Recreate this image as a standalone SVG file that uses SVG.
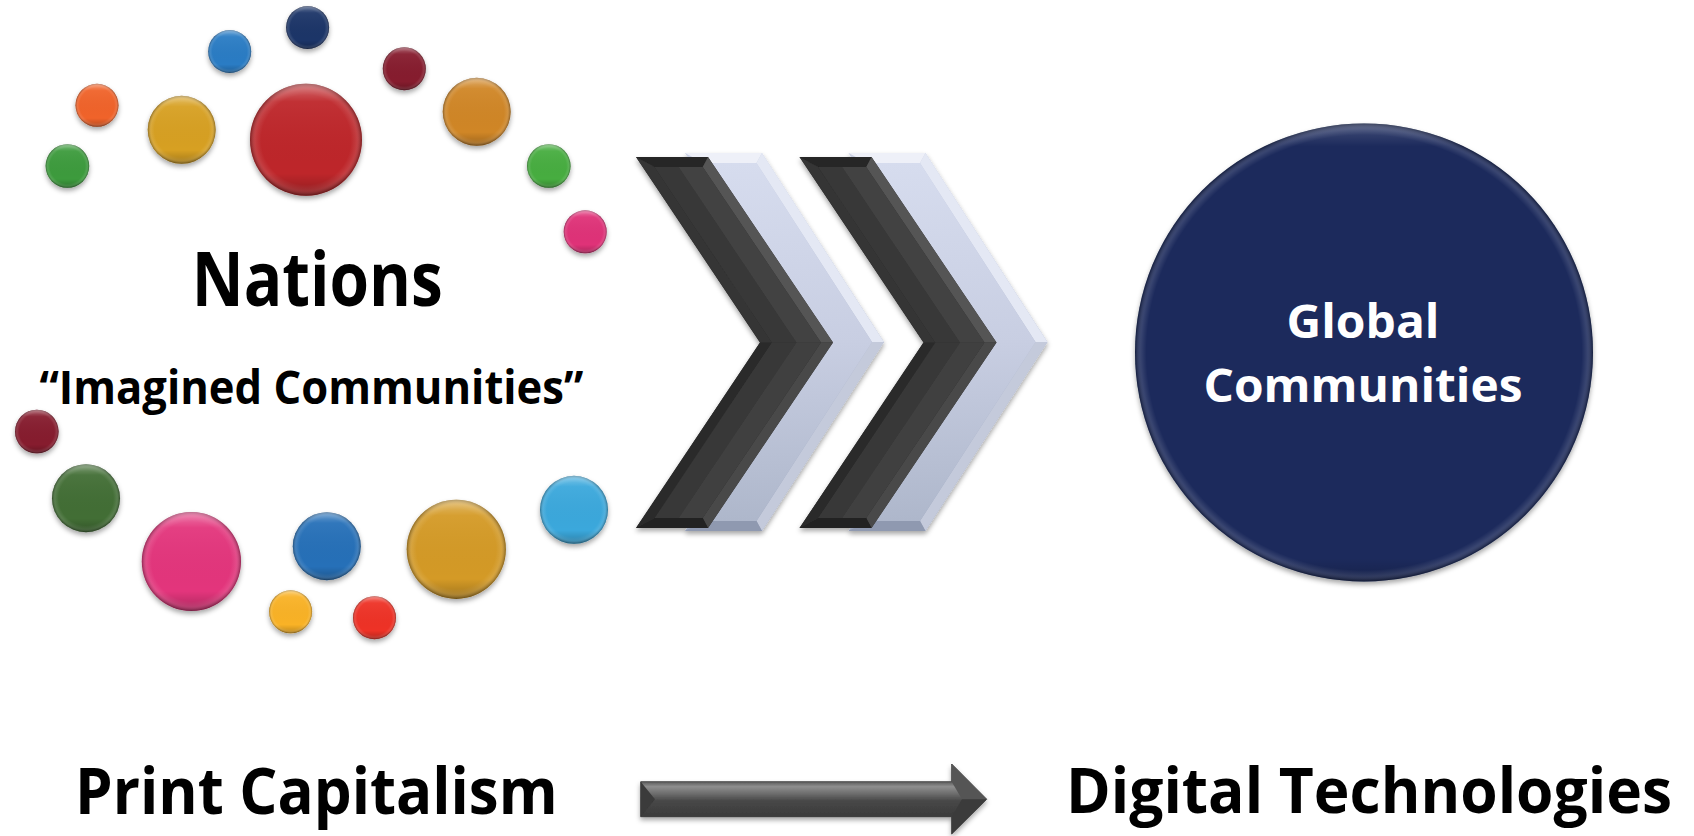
<svg xmlns="http://www.w3.org/2000/svg" xmlns:xlink="http://www.w3.org/1999/xlink" width="1694" height="836" viewBox="0 0 1694 836">
<style>
.t{font-family:"Open Sans","Noto Sans","Liberation Sans",sans-serif;font-weight:700;fill:#000}
.w{fill:#fff}
</style>
<defs>
<filter id="sh" x="-20%" y="-20%" width="140%" height="150%">
<feDropShadow dx="0" dy="3" stdDeviation="2.5" flood-color="#000" flood-opacity="0.35"/>
</filter>
<radialGradient id="rim" cx="0.5" cy="0.5" r="0.5">
<stop offset="0.8" stop-color="#fff" stop-opacity="0"/>
<stop offset="0.9" stop-color="#fff" stop-opacity="0.1"/>
<stop offset="1" stop-color="#000" stop-opacity="0.35"/>
</radialGradient>
<radialGradient id="rimBig" cx="0.5" cy="0.5" r="0.5">
<stop offset="0.95" stop-color="#fff" stop-opacity="0"/>
<stop offset="0.975" stop-color="#fff" stop-opacity="0.12"/>
<stop offset="1" stop-color="#000" stop-opacity="0.35"/>
</radialGradient>
<linearGradient id="glBig" x1="0" y1="0" x2="0" y2="1">
<stop offset="0" stop-color="#fff" stop-opacity="0.18"/>
<stop offset="0.05" stop-color="#fff" stop-opacity="0"/>
<stop offset="0.95" stop-color="#000" stop-opacity="0"/>
<stop offset="1" stop-color="#000" stop-opacity="0.2"/>
</linearGradient>
<linearGradient id="gl" x1="0" y1="0" x2="0" y2="1">
<stop offset="0" stop-color="#fff" stop-opacity="0.35"/>
<stop offset="0.16" stop-color="#fff" stop-opacity="0.05"/>
<stop offset="0.8" stop-color="#000" stop-opacity="0"/>
<stop offset="1" stop-color="#000" stop-opacity="0.25"/>
</linearGradient>
<linearGradient id="lb" x1="0" y1="0" x2="0" y2="1">
<stop offset="0" stop-color="#cbd1e4"/>
<stop offset="1" stop-color="#9ca6bd"/>
</linearGradient>
<linearGradient id="lf" x1="0" y1="0" x2="0" y2="1">
<stop offset="0" stop-color="#d6dcee"/>
<stop offset="0.5" stop-color="#c8cee2"/>
<stop offset="1" stop-color="#aeb7cb"/>
</linearGradient>
<linearGradient id="ag" gradientUnits="userSpaceOnUse" x1="0" y1="781.7" x2="0" y2="816.7">
<stop offset="0" stop-color="#5c5c5c"/>
<stop offset="0.14" stop-color="#8e8e8e"/>
<stop offset="0.35" stop-color="#6c6c6c"/>
<stop offset="0.55" stop-color="#474747"/>
<stop offset="1" stop-color="#3c3c3c"/>
</linearGradient>
<g id="chevL">
<polygon points="685,153 762,153 884,342 762,531 685,531 807,342" fill="url(#lb)"/>
<polygon points="685,153 762,153 756.5,163 703.5,163" fill="#eef0f8"/>
<polygon points="762,153 884,342 872,342 756.5,163" fill="#e4e8f4"/>
<polygon points="884,342 762,531 756.5,521 872,342" fill="#c4cadb"/>
<polygon points="762,531 685,531 703.5,521 756.5,521" fill="#8f99b0"/>
<polygon points="703.5,163 756.5,163 872,342 756.5,521 703.5,521 819,342" fill="url(#lf)"/>
</g>
<g id="chevD">
<polygon points="636,157 708,157 833,342.5 708,528 636,528 760,342.5" fill="#2e2e2e"/>
<polygon points="636,157 708,157 702.7,167 654.7,167" fill="#262626"/>
<polygon points="708,157 833,342.5 821,342.5 702.7,167" fill="#555555"/>
<polygon points="833,342.5 708,528 702.7,518 821,342.5" fill="#4a4a4a"/>
<polygon points="708,528 636,528 654.8,518 702.7,518" fill="#222222"/>
<polygon points="636,157 654.7,167 772,342.5 760,342.5" fill="#343434"/>
<polygon points="760,342.5 772,342.5 654.8,518 636,528" fill="#2b2b2b"/>
<polygon points="654.7,167 678.7,167 796.5,342.5 772,342.5" fill="#393939"/>
<polygon points="772,342.5 796.5,342.5 678.7,518 654.8,518" fill="#393939"/>
<polygon points="678.7,167 702.7,167 821,342.5 796.5,342.5" fill="#434343"/>
<polygon points="796.5,342.5 821,342.5 702.7,518 678.7,518" fill="#404040"/>
</g>
</defs>
<rect width="1694" height="836" fill="#fff"/>

<g id="nations">
<g filter="url(#sh)">
<circle cx="307.6" cy="27.5" r="21.5" fill="#1f3468"/>
<circle cx="229.7" cy="51.5" r="21.5" fill="#2b7bc4"/>
<circle cx="404.3" cy="68.7" r="21.5" fill="#861b2d"/>
<circle cx="97" cy="105.3" r="21.5" fill="#f0642a"/>
<circle cx="181.7" cy="129.8" r="34" fill="#d7a024"/>
<circle cx="306" cy="139.8" r="56" fill="#be282c"/>
<circle cx="476.7" cy="111.8" r="34" fill="#d08628"/>
<circle cx="67.4" cy="166" r="21.8" fill="#3d9b3c"/>
<circle cx="548.8" cy="166" r="21.8" fill="#46ad3f"/>
<circle cx="585.2" cy="231.8" r="21.5" fill="#df3178"/>
<circle cx="36.8" cy="431.5" r="21.8" fill="#861b2d"/>
<circle cx="86" cy="498.2" r="34" fill="#426e35"/>
<circle cx="191.4" cy="561.5" r="49.6" fill="#e3357b"/>
<circle cx="326.8" cy="546.2" r="34" fill="#2670b8"/>
<circle cx="456.3" cy="549.3" r="49.6" fill="#d49a28"/>
<circle cx="574" cy="509.8" r="34" fill="#3aa8dc"/>
<circle cx="290.6" cy="611.8" r="21.5" fill="#f9b225"/>
<circle cx="374.5" cy="617.7" r="21.5" fill="#ee3325"/>
</g>
<g fill="url(#rim)">
<circle cx="307.6" cy="27.5" r="21.5"/>
<circle cx="229.7" cy="51.5" r="21.5"/>
<circle cx="404.3" cy="68.7" r="21.5"/>
<circle cx="97" cy="105.3" r="21.5"/>
<circle cx="181.7" cy="129.8" r="34"/>
<circle cx="306" cy="139.8" r="56"/>
<circle cx="476.7" cy="111.8" r="34"/>
<circle cx="67.4" cy="166" r="21.8"/>
<circle cx="548.8" cy="166" r="21.8"/>
<circle cx="585.2" cy="231.8" r="21.5"/>
<circle cx="36.8" cy="431.5" r="21.8"/>
<circle cx="86" cy="498.2" r="34"/>
<circle cx="191.4" cy="561.5" r="49.6"/>
<circle cx="326.8" cy="546.2" r="34"/>
<circle cx="456.3" cy="549.3" r="49.6"/>
<circle cx="574" cy="509.8" r="34"/>
<circle cx="290.6" cy="611.8" r="21.5"/>
<circle cx="374.5" cy="617.7" r="21.5"/>
</g>
<g fill="url(#gl)">
<circle cx="307.6" cy="27.5" r="21.5"/>
<circle cx="229.7" cy="51.5" r="21.5"/>
<circle cx="404.3" cy="68.7" r="21.5"/>
<circle cx="97" cy="105.3" r="21.5"/>
<circle cx="181.7" cy="129.8" r="34"/>
<circle cx="306" cy="139.8" r="56"/>
<circle cx="476.7" cy="111.8" r="34"/>
<circle cx="67.4" cy="166" r="21.8"/>
<circle cx="548.8" cy="166" r="21.8"/>
<circle cx="585.2" cy="231.8" r="21.5"/>
<circle cx="36.8" cy="431.5" r="21.8"/>
<circle cx="86" cy="498.2" r="34"/>
<circle cx="191.4" cy="561.5" r="49.6"/>
<circle cx="326.8" cy="546.2" r="34"/>
<circle cx="456.3" cy="549.3" r="49.6"/>
<circle cx="574" cy="509.8" r="34"/>
<circle cx="290.6" cy="611.8" r="21.5"/>
<circle cx="374.5" cy="617.7" r="21.5"/>
</g>
<text class="t" x="317.3" y="306" font-size="76" text-anchor="middle" textLength="251" lengthAdjust="spacingAndGlyphs">Nations</text>
<text class="t" x="311.4" y="404" font-size="47" text-anchor="middle" textLength="544" lengthAdjust="spacingAndGlyphs">“Imagined Communities”</text>
</g>

<g id="global">
<circle cx="1364" cy="352.5" r="229" fill="#1c2c5c" filter="url(#sh)"/>
<circle cx="1364" cy="352.5" r="229" fill="url(#rimBig)"/>
<circle cx="1364" cy="352.5" r="229" fill="url(#glBig)"/>
<text class="t w" x="1363" y="338" font-size="46" text-anchor="middle" textLength="153" lengthAdjust="spacingAndGlyphs">Global</text>
<text class="t w" x="1363" y="402" font-size="46" text-anchor="middle" textLength="319" lengthAdjust="spacingAndGlyphs">Communities</text>
</g>

<g id="print-capitalism">
<text class="t" x="316.3" y="814" font-size="64" text-anchor="middle" textLength="482.5" lengthAdjust="spacingAndGlyphs">Print Capitalism</text>
</g>

<g id="digital-technologies">
<text class="t" x="1369" y="813" font-size="63" text-anchor="middle" textLength="606" lengthAdjust="spacingAndGlyphs">Digital Technologies</text>
</g>

<g id="connectors">
<g filter="url(#sh)">
<use xlink:href="#chevL"/>
<use xlink:href="#chevD"/>
<use xlink:href="#chevL" x="163.5"/>
<use xlink:href="#chevD" x="163.5"/>
</g>
<g filter="url(#sh)">
<path d="M640.7,781.7 L951.7,781.7 L951.7,764 L986.7,799.2 L951.7,834 L951.7,816.7 L640.7,816.7 Z" fill="url(#ag)" stroke="#333" stroke-width="0.8"/>
<polygon points="951.7,764 986.7,799.2 962,799.2 951.7,781.7" fill="#555"/>
<polygon points="951.7,834 986.7,799.2 962,799.2 951.7,816.7" fill="#3a3a3a"/>
<polygon points="640.7,781.7 655,799.2 640.7,816.7" fill="#3a3a3a"/>
</g>
</g>
</svg>
